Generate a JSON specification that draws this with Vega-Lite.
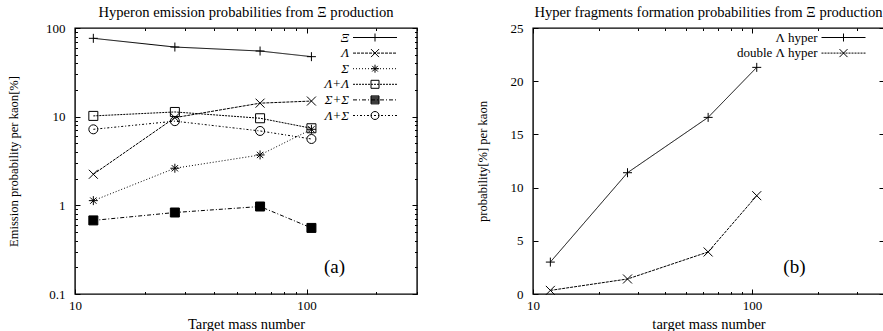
{
  "$schema": "https://vega.github.io/schema/vega-lite/v6.json",
  "padding": {"left": 6, "top": 4, "right": 0, "bottom": 0},
  "background": "white",
  "bounds": "flush",
  "spacing": 116,
  "config": {
    "font": "Liberation Serif",
    "view": {"stroke": "black", "strokeWidth": 1.4},
    "axis": {"labelFont": "Liberation Serif", "labelFontSize": 13, "labelColor": "black", "titleFont": "Liberation Serif", "titleFontSize": 12.6, "titleFontWeight": "normal", "titleColor": "black", "tickColor": "black", "tickWidth": 1, "grid": false, "domain": false, "labelFlush": false, "labelOverlap": false},
    "title": {"font": "Liberation Serif", "fontSize": 14.6, "fontWeight": "normal", "color": "black"},
    "legend": {"labelFont": "Liberation Serif", "labelFontSize": 13, "labelColor": "black"}
  },
  "datasets": {
    "hyperon": [
      {"A": 12, "p": 76.5, "s": "Ξ"}, {"A": 27, "p": 61, "s": "Ξ"}, {"A": 63, "p": 55, "s": "Ξ"}, {"A": 105, "p": 47.5, "s": "Ξ"},
      {"A": 12, "p": 2.24, "s": "Λ"}, {"A": 27, "p": 9.75, "s": "Λ"}, {"A": 63, "p": 14.2, "s": "Λ"}, {"A": 105, "p": 15.0, "s": "Λ"},
      {"A": 12, "p": 1.13, "s": "Σ"}, {"A": 27, "p": 2.62, "s": "Σ"}, {"A": 63, "p": 3.7, "s": "Σ"}, {"A": 105, "p": 7.2, "s": "Σ"},
      {"A": 12, "p": 10.2, "s": "Λ+Λ"}, {"A": 27, "p": 11.3, "s": "Λ+Λ"}, {"A": 63, "p": 9.6, "s": "Λ+Λ"}, {"A": 105, "p": 7.4, "s": "Λ+Λ"},
      {"A": 12, "p": 0.676, "s": "Σ+Σ"}, {"A": 27, "p": 0.83, "s": "Σ+Σ"}, {"A": 63, "p": 0.97, "s": "Σ+Σ"}, {"A": 105, "p": 0.556, "s": "Σ+Σ"},
      {"A": 12, "p": 7.2, "s": "Λ+Σ"}, {"A": 27, "p": 8.9, "s": "Λ+Σ"}, {"A": 63, "p": 6.9, "s": "Λ+Σ"}, {"A": 105, "p": 5.6, "s": "Λ+Σ"}
    ],
    "frag": [
      {"A": 12, "p": 3.0, "s": "Λ hyper"}, {"A": 27, "p": 11.4, "s": "Λ hyper"}, {"A": 63, "p": 16.6, "s": "Λ hyper"}, {"A": 105, "p": 21.3, "s": "Λ hyper"},
      {"A": 12, "p": 0.34, "s": "double Λ hyper"}, {"A": 27, "p": 1.41, "s": "double Λ hyper"}, {"A": 63, "p": 3.95, "s": "double Λ hyper"}, {"A": 105, "p": 9.24, "s": "double Λ hyper"}
    ]
  },
  "hconcat": [
    {
      "width": 342,
      "height": 266,
      "title": {"text": "Hyperon emission probabilities from Ξ production", "offset": -10, "baseline": "alphabetic"},
      "layer": [
        {
          "data": {"name": "hyperon"},
          "mark": {"type": "line", "color": "black", "strokeWidth": 1},
          "encoding": {
            "x": {"field": "A", "type": "quantitative", "scale": {"type": "log", "domain": [10, 300], "nice": false},
              "axis": {"orient": "bottom", "values": [10, 20, 30, 40, 50, 60, 70, 80, 90, 100, 200, 300], "labelExpr": "(datum.value==10||datum.value==100) ? format(datum.value,'d') : ''", "tickSize": {"condition": {"test": "datum.value==10||datum.value==100", "value": -5}, "value": -2.5}, "labelPadding": 10, "title": "Target mass number", "titlePadding": 3, "titleFontSize": 14.5}},
            "y": {"field": "p", "type": "quantitative", "scale": {"type": "log", "domain": [0.1, 100], "nice": false},
              "axis": {"orient": "left", "values": [0.1, 0.2, 0.3, 0.4, 0.5, 0.6, 0.7, 0.8, 0.9, 1, 2, 3, 4, 5, 6, 7, 8, 9, 10, 20, 30, 40, 50, 60, 70, 80, 90, 100], "labelExpr": "indexof([0.1,1,10,100], datum.value) >= 0 ? format(datum.value,'~g') : ''", "tickSize": {"condition": {"test": "indexof([0.1,1,10,100], datum.value) >= 0", "value": -5}, "value": -2.5}, "labelPadding": 15, "title": "Emission probability per kaon[%]", "titlePadding": 25}},
            "strokeDash": {"field": "s", "type": "nominal", "scale": {"domain": ["Ξ", "Λ", "Σ", "Λ+Λ", "Σ+Σ", "Λ+Σ"], "range": [[1, 0], [3, 1], [1, 2], [2, 1], [4, 2, 1, 2], [2, 2, 1, 2]]}, "legend": null}
          }
        },
        {
          "data": {"name": "hyperon"},
          "mark": {"type": "point", "color": "black", "strokeWidth": 1, "size": 81, "opacity": 1},
          "encoding": {
            "x": {"field": "A", "type": "quantitative", "axis": null},
            "y": {"field": "p", "type": "quantitative", "axis": null},
            "shape": {"field": "s", "type": "nominal", "scale": {"domain": ["Ξ", "Λ", "Σ", "Λ+Λ", "Σ+Σ", "Λ+Σ"], "range": ["M-1,0H1M0,-1V1", "M-1,-1L1,1M-1,1L1,-1", "M-1,0H1M0,-1V1M-0.7,-0.7L0.7,0.7M-0.7,0.7L0.7,-0.7", "square", "square", "circle"]}, "legend": null},
            "fill": {"field": "s", "type": "nominal", "scale": {"domain": ["Ξ", "Λ", "Σ", "Λ+Λ", "Σ+Σ", "Λ+Σ"], "range": ["transparent", "transparent", "transparent", "transparent", "black", "transparent"]}, "legend": null}
          }
        },
        {
          "data": {"values": [{"A": 132, "p": 0.2, "t": "(a)"}]},
          "mark": {"type": "text", "fontSize": 19, "align": "center", "baseline": "middle", "color": "black"},
          "encoding": {
            "x": {"field": "A", "type": "quantitative", "axis": null},
            "y": {"field": "p", "type": "quantitative", "axis": null},
            "text": {"field": "t"}
          }
        },
        {
          "data": {"name": "hyperon"},
          "transform": [{"filter": "false"}],
          "mark": {"type": "point", "color": "black", "strokeWidth": 1, "size": 64, "opacity": 1},
          "encoding": {
            "x": {"field": "A", "type": "quantitative",
              "axis": {"orient": "top", "values": [10, 20, 30, 40, 50, 60, 70, 80, 90, 100, 200, 300], "labels": false, "tickSize": {"condition": {"test": "datum.value==10||datum.value==100", "value": -5}, "value": -2.5}, "title": null, "minExtent": 0, "maxExtent": 0}},
            "y": {"field": "p", "type": "quantitative",
              "axis": {"orient": "right", "values": [0.1, 0.2, 0.3, 0.4, 0.5, 0.6, 0.7, 0.8, 0.9, 1, 2, 3, 4, 5, 6, 7, 8, 9, 10, 20, 30, 40, 50, 60, 70, 80, 90, 100], "labels": false, "tickSize": {"condition": {"test": "indexof([0.1,1,10,100], datum.value) >= 0", "value": -5}, "value": -2.5}, "title": null, "minExtent": 0, "maxExtent": 0}},
            "shape": {"field": "s", "type": "nominal",
              "scale": {"domain": ["Ξ", "Λ", "Σ", "Λ+Λ", "Σ+Σ", "Λ+Σ"], "range": [
                "M-5.5,0H5.5M0,-1V1",
                "M-5.5,0H-4.75M-4.5,0H-3.75M-3.5,0H-2.75M-2.5,0H-1.75M-1.5,0H-0.75M-0.5,0H0.25M0.5,0H1.25M1.5,0H2.25M2.5,0H3.25M3.5,0H4.25M4.5,0H5.25M-1,-1L1,1M-1,1L1,-1",
                "M-5.5,0H-5.25M-4.75,0H-4.5M-4,0H-3.75M-3.25,0H-3M-2.5,0H-2.25M-1.75,0H-1.5M-1,0H-0.75M-0.25,0H0M0.5,0H0.75M1.25,0H1.5M2,0H2.25M2.75,0H3M3.5,0H3.75M4.25,0H4.5M5,0H5.25M-1,0H1M0,-1V1M-0.7,-0.7L0.7,0.7M-0.7,0.7L0.7,-0.7",
                "M-5.5,0H-5M-4.75,0H-4.25M-4,0H-3.5M-3.25,0H-2.75M-2.5,0H-2M-1.75,0H-1.25M-1,0H-0.5M-0.25,0H0.25M0.5,0H1M1.25,0H1.75M2,0H2.5M2.75,0H3.25M3.5,0H4M4.25,0H4.75M5,0H5.5M-1,-1H1V1H-1Z",
                "M-5.5,0H-4.5M-4,0H-3.75M-3.25,0H-2.25M-1.75,0H-1.5M-1,0H0M0.5,0H0.75M1.25,0H2.25M2.75,0H3M3.5,0H4.5M5,0H5.25M-1,-1H1M-1,-0.75H1M-1,-0.5H1M-1,-0.25H1M-1,0H1M-1,0.25H1M-1,0.5H1M-1,0.75H1M-1,1H1M-1,-1V1M1,-1V1",
                "M-5.5,0H-5M-4.5,0H-4.25M-3.75,0H-3.25M-2.75,0H-2.5M-2,0H-1.5M-1,0H-0.75M-0.25,0H0.25M0.75,0H1M1.5,0H2M2.5,0H2.75M3.25,0H3.75M4.25,0H4.5M5,0H5.5M1,0A1,1 0 1,1 -1,0A1,1 0 1,1 1,0"
              ]},
              "legend": {"orient": "none", "legendX": 293.5, "legendY": 3, "title": null, "padding": 0, "symbolSize": 64, "symbolStrokeWidth": 1, "symbolStrokeColor": "black", "symbolFillColor": "transparent", "labelAlign": "right", "labelOffset": -32.5, "labelFontStyle": "italic", "rowPadding": 1.6}}
          }
        }
      ],
      "resolve": {"scale": {"shape": "independent"}, "axis": {"x": "independent", "y": "independent"}}
    },
    {
      "width": 351,
      "height": 266,
      "title": {"text": "Hyper fragments formation probabilities from Ξ production", "offset": -10, "baseline": "alphabetic"},
      "layer": [
        {
          "data": {"name": "frag"},
          "mark": {"type": "line", "color": "black", "strokeWidth": 1},
          "encoding": {
            "x": {"field": "A", "type": "quantitative", "scale": {"type": "log", "domain": [10, 400], "nice": false},
              "axis": {"orient": "bottom", "values": [10, 20, 30, 40, 50, 60, 70, 80, 90, 100, 200, 300, 400], "labelExpr": "(datum.value==10||datum.value==100) ? format(datum.value,'d') : ''", "tickSize": {"condition": {"test": "datum.value==10||datum.value==100", "value": -5}, "value": -2.5}, "labelPadding": 10, "title": "target mass number", "titlePadding": 3, "titleFontSize": 14.5}},
            "y": {"field": "p", "type": "quantitative", "scale": {"domain": [0, 25], "nice": false},
              "axis": {"orient": "left", "values": [0, 5, 10, 15, 20, 25], "tickSize": -5, "labelPadding": 15, "title": "probability[%] per kaon", "titlePadding": 21}},
            "strokeDash": {"field": "s", "type": "nominal", "scale": {"domain": ["Λ hyper", "double Λ hyper"], "range": [[1, 0], [3, 2]]}, "legend": null}
          }
        },
        {
          "data": {"name": "frag"},
          "mark": {"type": "point", "color": "black", "strokeWidth": 1, "size": 81, "opacity": 1, "filled": false},
          "encoding": {
            "x": {"field": "A", "type": "quantitative", "axis": null},
            "y": {"field": "p", "type": "quantitative", "axis": null},
            "shape": {"field": "s", "type": "nominal", "scale": {"domain": ["Λ hyper", "double Λ hyper"], "range": ["M-1,0H1M0,-1V1", "M-1,-1L1,1M-1,1L1,-1"]}, "legend": null}
          }
        },
        {
          "data": {"values": [{"A": 156, "p": 2.57, "t": "(b)"}]},
          "mark": {"type": "text", "fontSize": 19, "align": "center", "baseline": "middle", "color": "black"},
          "encoding": {
            "x": {"field": "A", "type": "quantitative", "axis": null},
            "y": {"field": "p", "type": "quantitative", "axis": null},
            "text": {"field": "t"}
          }
        },
        {
          "data": {"name": "frag"},
          "transform": [{"filter": "false"}],
          "mark": {"type": "point", "color": "black", "strokeWidth": 1, "size": 64, "opacity": 1, "filled": false},
          "encoding": {
            "x": {"field": "A", "type": "quantitative",
              "axis": {"orient": "top", "values": [10, 20, 30, 40, 50, 60, 70, 80, 90, 100, 200, 300, 400], "labels": false, "tickSize": {"condition": {"test": "datum.value==10||datum.value==100", "value": -5}, "value": -2.5}, "title": null, "minExtent": 0, "maxExtent": 0}},
            "y": {"field": "p", "type": "quantitative",
              "axis": {"orient": "right", "values": [0, 5, 10, 15, 20, 25], "labels": false, "tickSize": -5, "title": null, "minExtent": 0, "maxExtent": 0}},
            "shape": {"field": "s", "type": "nominal",
              "scale": {"domain": ["Λ hyper", "double Λ hyper"], "range": [
                "M-5.5,0H5.5M0,-1V1",
                "M-5.5,0H-5M-4.75,0H-4.25M-4,0H-3.5M-3.25,0H-2.75M-2.5,0H-2M-1.75,0H-1.25M-1,0H-0.5M-0.25,0H0.25M0.5,0H1M1.25,0H1.75M2,0H2.5M2.75,0H3.25M3.5,0H4M4.25,0H4.75M5,0H5.5M-1,-1L1,1M-1,1L1,-1"
              ]},
              "legend": {"orient": "none", "legendX": 304, "legendY": 3, "title": null, "padding": 0, "symbolSize": 64, "symbolStrokeWidth": 1, "symbolStrokeColor": "black", "symbolFillColor": "transparent", "labelAlign": "right", "labelOffset": -32.5, "rowPadding": 1.6}}
          }
        }
      ],
      "resolve": {"scale": {"shape": "independent"}, "axis": {"x": "independent", "y": "independent"}}
    }
  ]
}
